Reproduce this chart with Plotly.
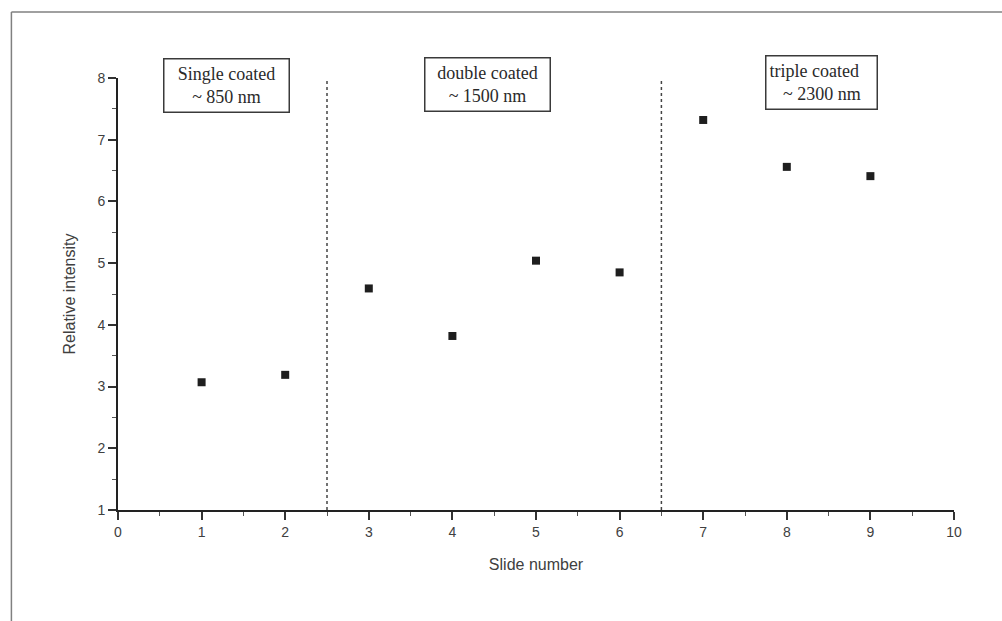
import plotly.graph_objects as go

# Measured relative intensity per slide
slides = [1, 2, 3, 4, 5, 6, 7, 8, 9]
intensity = [3.07, 3.19, 4.59, 3.82, 5.04, 4.85, 7.32, 6.56, 6.41]

# Boundaries between coating groups
group_bounds = [2.5, 6.5]

# Group labels: centre position, text, alignment, box width
group_x = [1.30, 4.42, 8.42]
group_y = [7.88, 7.89, 7.93]
group_text = [
    "Single coated<br>~ 850 nm",
    "double coated<br>~ 1500 nm",
    "triple coated<br>\u00a0\u00a0\u00a0~ 2300 nm",
]
group_align = ["center", "center", "left"]
group_width = [118, 118, 104]

fig = go.Figure()

fig.add_trace(go.Scatter(
    x=slides, y=intensity, mode="markers",
    marker=dict(symbol="square", size=8, color="#1e1e1e"),
    showlegend=False, hoverinfo="x+y",
))

for b in group_bounds:
    fig.add_shape(type="line", xref="x", yref="y",
                  x0=b, x1=b, y0=1, y1=8.17,
                  line=dict(color="#444444", width=1.5, dash="dot"))

for gx, gy, txt, al, w in zip(group_x, group_y, group_text, group_align, group_width):
    fig.add_annotation(
        x=gx, y=gy, xref="x", yref="y", text=txt, showarrow=False,
        align=al, width=w, height=46, borderpad=3,
        bordercolor="#3a3a3a", borderwidth=1.5, bgcolor="white",
        font=dict(family="Liberation Serif, Times New Roman, serif", size=18, color="#2a2a2a"),
    )

# Outer frame (top and left edges visible)
fig.add_shape(type="line", xref="paper", yref="paper",
              x0=-0.1275, x1=1.1, y0=1.153, y1=1.153,
              line=dict(color="#808080", width=1.5))
fig.add_shape(type="line", xref="paper", yref="paper",
              x0=-0.1275, x1=-0.1275, y0=1.153, y1=-0.3,
              line=dict(color="#808080", width=1.5))

tick_font = dict(family="Liberation Sans, Arial, sans-serif", size=14, color="#404040")
title_font = dict(family="Liberation Sans, Arial, sans-serif", size=16, color="#404040")

fig.update_xaxes(
    range=[0, 10], tick0=0, dtick=1, showgrid=False, zeroline=False,
    showline=True, linecolor="#222222", linewidth=2,
    ticks="outside", ticklen=8, tickwidth=1.5, tickcolor="#333333",
    minor=dict(dtick=0.5, ticks="outside", ticklen=4, tickwidth=1.2, tickcolor="#555555"),
    tickfont=tick_font,
    title=dict(text="Slide number", font=title_font, standoff=20),
)
fig.update_yaxes(
    range=[1, 8], tick0=1, dtick=1, showgrid=False, zeroline=False,
    showline=True, linecolor="#222222", linewidth=2,
    ticks="outside", ticklen=8, tickwidth=1.5, tickcolor="#333333",
    minor=dict(dtick=0.5, ticks="outside", ticklen=4, tickwidth=1.2, tickcolor="#555555"),
    tickfont=tick_font,
    title=dict(text="Relative intensity", font=title_font, standoff=18),
)

fig.update_layout(
    width=1002, height=621,
    margin=dict(l=118, r=48, t=78, b=111),
    paper_bgcolor="white", plot_bgcolor="white",
    showlegend=False,
)

fig.write_html("out.html")
